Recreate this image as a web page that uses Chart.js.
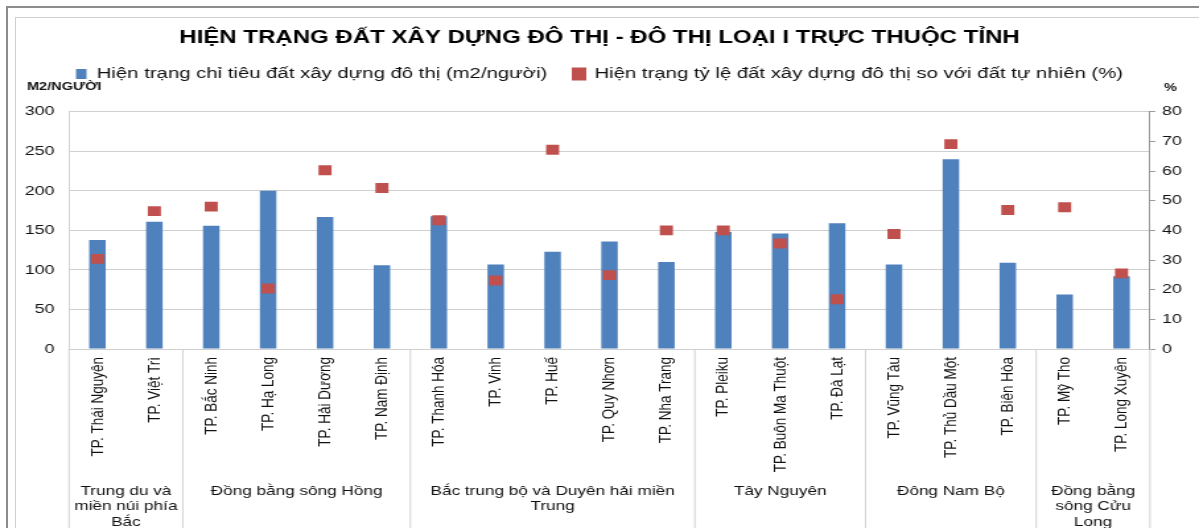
<!DOCTYPE html>
<html>
<head>
<meta charset="utf-8">
<title>Hiện trạng đất xây dựng đô thị</title>
<script src="https://cdn.jsdelivr.net/npm/chart.js@4.4.1/dist/chart.umd.min.js"></script>
<style>
  body { margin: 0; background: #fff; }
  #wrap { position: relative; width: 1199px; height: 528px; overflow: hidden; }
  .frame-outer { position: absolute; left: 6px; top: 6px; right: -10px; bottom: -10px;
                 border-left: 2px solid #8c8c8c; border-top: 2px solid #8c8c8c; }
  .frame-inner { position: absolute; left: 15px; top: 17px; right: -10px; bottom: -10px;
                 border-left: 1px solid #cfcfcf; border-top: 1px solid #cfcfcf; }
  /* the source picture is stretched sideways, so the canvas is drawn narrower and widened */
  #chart { position: absolute; left: 0; top: 0; width: 1199px !important; height: 528px !important; }
</style>
</head>
<body>
<div id="wrap">
  <div class="frame-outer"></div>
  <div class="frame-inner"></div>
  <canvas id="chart" width="908" height="528" style="width:1199px;height:528px"></canvas>
</div>
<script>
// --- data ---
const cities = [
    "TP. Thái Nguyên", "TP. Việt Trì",
    "TP. Bắc Ninh", "TP. Hạ Long", "TP. Hải Dương", "TP. Nam Định",
    "TP. Thanh Hóa", "TP. Vinh", "TP. Huế", "TP. Quy Nhơn", "TP. Nha Trang",
    "TP. Pleiku", "TP. Buôn Ma Thuột", "TP. Đà Lạt",
    "TP. Vũng Tàu", "TP. Thủ Dầu Một", "TP. Biên Hòa",
    "TP. Mỹ Tho", "TP. Long Xuyên"
];
const landPerPerson = [138, 161, 156, 200, 167, 106, 168, 107, 123, 136, 110, 148, 146, 159, 107, 240, 109, 69, 92];
const landRatio = [30.4, 46.5, 48, 20.4, 60.3, 54.3, 43.4, 23.1, 67.2, 24.9, 40, 40, 35.6, 16.8, 38.8, 69.1, 46.9, 47.8, 25.5];

// regions: name lines + how many cities in each
const regionNames = [
    ["Trung du và", "miền núi phía", "Bắc"],
    ["Đồng bằng sông Hồng"],
    ["Bắc trung bộ và Duyên hải miền", "Trung"],
    ["Tây Nguyên"],
    ["Đông Nam Bộ"],
    ["Đồng bằng", "sông Cửu", "Long"]
];
const regionSizes = [2, 4, 5, 3, 3, 2];

const leftTicks = [0, 50, 100, 150, 200, 250, 300];
const rightTicks = [0, 10, 20, 30, 40, 50, 60, 70, 80];

const BLUE = '#4F81BD';
const RED = '#C0504D';
const GRID = '#d0d0d0';
const SX = 908 / 1199; // page px -> canvas px (horizontal only)

Chart.defaults.font.family = '"Liberation Sans", Arial, sans-serif';
Chart.defaults.color = '#111';

// empty box between legend and plot so the plot starts lower
const spacerPlugin = {
    id: 'legendSpacer',
    start(chart) {
        if (!Chart.layouts) return;
        Chart.layouts.addBox(chart, {
            position: 'top',
            weight: 0,
            fullSize: true,
            options: {},
            update(maxWidth) { this.width = maxWidth; this.height = 20; },
            isHorizontal() { return true; },
            draw() {}
        });
    }
};

// region labels under the city names + axis captions
const regionPlugin = {
    id: 'regionLabels',
    afterDraw(chart) {
        const ctx = chart.ctx;
        const area = chart.chartArea;
        const x = chart.scales.x;
        const step = x.getPixelForValue(1) - x.getPixelForValue(0);
        ctx.save();
        ctx.strokeStyle = GRID;
        ctx.lineWidth = 1;

        let idx = 0;
        const edges = [x.getPixelForValue(0) - step / 2];
        regionSizes.forEach(n => {
            idx += n;
            edges.push(x.getPixelForValue(idx - 1) + step / 2);
        });
        edges.forEach(e => {
            ctx.beginPath();
            ctx.moveTo(e, area.bottom);
            ctx.lineTo(e, chart.height);
            ctx.stroke();
        });

        ctx.fillStyle = '#111';
        ctx.font = '13px "Liberation Sans", Arial, sans-serif';
        ctx.textAlign = 'center';
        ctx.textBaseline = 'middle';
        regionNames.forEach((lines, i) => {
            const cx = (edges[i] + edges[i + 1]) / 2;
            lines.forEach((t, j) => ctx.fillText(t, cx, 491 + j * 15.5));
        });

        // axis captions
        ctx.font = 'bold 11px "Liberation Sans", Arial, sans-serif';
        ctx.textAlign = 'left';
        ctx.fillText('M2/NGƯỜI', 27 * SX, 87);
        ctx.fillText('%', 1164 * SX, 88);
        ctx.restore();
    }
};

new Chart(document.getElementById('chart'), {
    data: {
        labels: cities,
        datasets: [{
            type: 'bar',
            label: 'Hiện trạng chỉ tiêu đất xây dựng đô thị (m2/người)',
            data: landPerPerson,
            backgroundColor: BLUE,
            borderColor: BLUE,
            borderWidth: 0,
            barPercentage: 0.29,
            categoryPercentage: 1,
            yAxisID: 'y',
            order: 2
        }, {
            type: 'line',
            label: 'Hiện trạng tỷ lệ đất xây dựng đô thị so với đất tự nhiên (%)',
            data: landRatio,
            showLine: false,
            pointStyle: 'rect',
            pointRadius: 7,
            pointHoverRadius: 7,
            pointBorderWidth: 0,
            backgroundColor: RED,
            borderColor: RED,
            yAxisID: 'y1',
            order: 1
        }]
    },
    options: {
        responsive: false,
        animation: false,
        devicePixelRatio: 1,
        layout: { padding: 0 },
        plugins: {
            title: {
                display: true,
                text: 'HIỆN TRẠNG ĐẤT XÂY DỰNG ĐÔ THỊ - ĐÔ THỊ LOẠI I TRỰC THUỘC TỈNH',
                color: '#000',
                font: { size: 18.2, weight: 'bold', lineHeight: 0.9 },
                padding: { top: 30, bottom: 0 }
            },
            legend: {
                display: true,
                position: 'top',
                labels: {
                    boxWidth: 8,
                    boxHeight: 10,
                    padding: 20,
                    color: '#111',
                    font: { size: 15.4 },
                    sort: (a, b) => a.datasetIndex - b.datasetIndex
                }
            },
            tooltip: { enabled: false }
        },
        scales: {
            x: {
                grid: { display: false, drawTicks: false },
                border: { display: true, color: GRID },
                ticks: {
                    autoSkip: false,
                    minRotation: 90,
                    maxRotation: 90,
                    padding: 8,
                    color: '#111',
                    font: { size: 13.5 }
                },
                afterFit(scale) { scale.height = 179; }
            },
            y: {
                position: 'left',
                min: 0,
                max: 300,
                afterBuildTicks(scale) { scale.ticks = leftTicks.map(v => ({ value: v })); },
                grid: { color: GRID, drawTicks: false },
                border: { display: true, color: GRID },
                ticks: { padding: 11, color: '#111', font: { size: 13.5 } },
                afterFit(scale) { scale.width = 69 * SX; }
            },
            y1: {
                position: 'right',
                min: 0,
                max: 80,
                afterBuildTicks(scale) { scale.ticks = rightTicks.map(v => ({ value: v })); },
                grid: { drawOnChartArea: false, drawTicks: true, tickLength: 4, color: '#999' },
                border: { display: true, color: '#999' },
                ticks: { padding: 5, color: '#111', font: { size: 13.5 } },
                afterFit(scale) { scale.width = 49 * SX; }
            }
        }
    },
    plugins: [spacerPlugin, regionPlugin]
});
</script>
</body>
</html>
